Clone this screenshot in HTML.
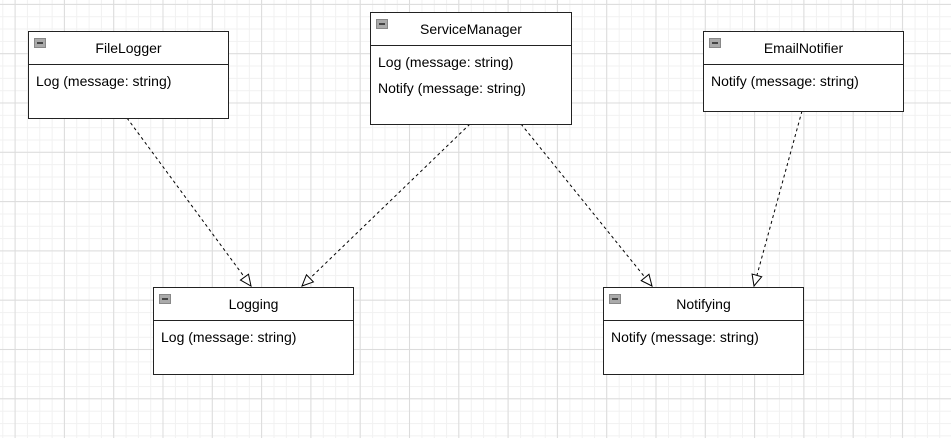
<!DOCTYPE html>
<html><head><style>
body{margin:0;width:951px;height:438px;overflow:hidden;background-color:#fff;
background-image:linear-gradient(#dcdcdc 1px,transparent 1px),linear-gradient(90deg,#dcdcdc 1px,transparent 1px),linear-gradient(#f1f1f1 1px,transparent 1px),linear-gradient(90deg,#f1f1f1 1px,transparent 1px);
background-size:49.3px 49.3px,49.3px 49.3px,12.33px 12.33px,12.33px 12.33px;background-position:14.6px 3.9px,14.6px 3.9px,2.3px 3.9px,2.3px 3.9px;font-family:"Liberation Sans",Arial,sans-serif;}
.b{position:absolute;background:#fff;border:1.5px solid #222;box-sizing:border-box;font-size:14px;color:#000}
.h{height:32px;border-bottom:1.5px solid #222;text-align:center;line-height:32px;position:relative}
.h i{position:absolute;left:5px;top:6px;width:10px;height:8px;background:#aaa;border:1px solid #888}
.h i:after{content:"";position:absolute;left:2px;top:3px;width:6px;height:2px;background:#444}
.r{padding-left:7px;line-height:16px;margin-top:8px}
svg{position:absolute;left:0;top:0}
</style></head><body>
<svg width="951" height="438">
<defs><marker id="a" markerWidth="14" markerHeight="12" refX="12" refY="6" orient="auto" markerUnits="userSpaceOnUse"><path d="M1,1 L12,6 L1,11 Z" fill="#fff" stroke="#000" stroke-width="1"/></marker></defs>
<g stroke="#000" stroke-width="1" stroke-dasharray="3,3" fill="none">
<line x1="127" y1="118" x2="251" y2="286" marker-end="url(#a)"/>
<line x1="470" y1="124" x2="302" y2="286" marker-end="url(#a)"/>
<line x1="521" y1="124" x2="652" y2="286" marker-end="url(#a)"/>
<line x1="802" y1="111" x2="754" y2="286" marker-end="url(#a)"/>
</g></svg>
<div class="b" style="left:28px;top:31px;width:201px;height:88px"><div class="h"><i></i>FileLogger</div><div class="r">Log (message: string)</div></div>
<div class="b" style="left:370px;top:12px;width:202px;height:113px"><div class="h"><i></i>ServiceManager</div><div class="r">Log (message: string)</div><div class="r" style="margin-top:10px">Notify (message: string)</div></div>
<div class="b" style="left:703px;top:31px;width:201px;height:81px"><div class="h"><i></i>EmailNotifier</div><div class="r">Notify (message: string)</div></div>
<div class="b" style="left:153px;top:287px;width:201px;height:88px"><div class="h"><i></i>Logging</div><div class="r">Log (message: string)</div></div>
<div class="b" style="left:603px;top:287px;width:201px;height:88px"><div class="h"><i></i>Notifying</div><div class="r">Notify (message: string)</div></div>
</body></html>
